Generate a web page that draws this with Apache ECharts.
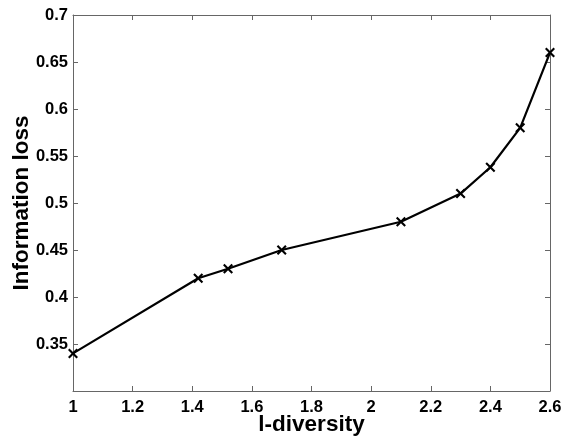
<!DOCTYPE html>
<html>
<head>
<meta charset="utf-8">
<script src="https://cdn.jsdelivr.net/npm/echarts@6/dist/echarts.min.js"></script>
<style>
html, body { margin: 0; padding: 0; background: #fff; }
#chart { width: 564px; height: 438px; }
</style>
</head>
<body>
<div id="chart"></div>
<script>
// values
var lDiversity = [1, 1.42, 1.52, 1.7, 2.1, 2.3, 2.4, 2.5, 2.6];
var infoLoss = [0.34, 0.42, 0.43, 0.45, 0.48, 0.51, 0.538, 0.58, 0.66];
var xTicks = [1, 1.2, 1.4, 1.6, 1.8, 2, 2.2, 2.4, 2.6];
var yTicks = [0.35, 0.4, 0.45, 0.5, 0.55, 0.6, 0.65, 0.7];

var points = lDiversity.map(function(x, i) { return [x, infoLoss[i]]; });

var axisColor = '#666';
var tickFont = { fontFamily: 'Liberation Sans', fontWeight: 'bold', fontSize: 16.5, color: '#000' };
var titleFont = { fontFamily: 'Liberation Sans', fontWeight: 'bold', fontSize: 22.5, color: '#000' };
// filled "x" marker
var crossPath = 'path://M0,1.5L1.5,0L5,3.5L8.5,0L10,1.5L6.5,5L10,8.5L8.5,10L5,6.5L1.5,10L0,8.5L3.5,5Z';

function fmt(v) { return String(Math.round(v * 100) / 100); }

var option = {
    animation: false,
    grid: { left: 73, right: 14, top: 15, bottom: 47, outerBoundsMode: 'none', containLabel: false },
    xAxis: [
        {
            type: 'value', min: 1, max: 2.6, interval: 0.2,
            name: 'l-diversity', nameLocation: 'middle', nameGap: 22, nameMoveOverlap: false,
            nameTextStyle: titleFont,
            axisLine: { lineStyle: { color: axisColor, width: 1 } },
            axisTick: { inside: true, length: 5, lineStyle: { color: axisColor } },
            axisLabel: Object.assign({ margin: 8, formatter: function(v) {
                return xTicks.some(function(t) { return Math.abs(t - v) < 1e-6; }) ? fmt(v) : '';
            } }, tickFont),
            splitLine: { show: false }
        },
        {
            type: 'value', min: 1, max: 2.6, interval: 0.2, position: 'top',
            axisLine: { lineStyle: { color: axisColor, width: 1 } },
            axisTick: { inside: true, length: 5, lineStyle: { color: axisColor } },
            axisLabel: { show: false },
            splitLine: { show: false }
        }
    ],
    yAxis: [
        {
            type: 'value', min: 0.3, max: 0.7, interval: 0.05,
            name: 'Information loss', nameLocation: 'middle', nameGap: 40, nameMoveOverlap: false,
            nameTextStyle: titleFont,
            axisLine: { show: true, lineStyle: { color: axisColor, width: 1 } },
            axisTick: { show: true, inside: true, length: 5, lineStyle: { color: axisColor } },
            axisLabel: Object.assign({ margin: 5, showMinLabel: false, formatter: function(v) {
                return yTicks.some(function(t) { return Math.abs(t - v) < 1e-6; }) ? fmt(v) : '';
            } }, tickFont),
            splitLine: { show: false }
        },
        {
            type: 'value', min: 0.3, max: 0.7, interval: 0.05, position: 'right',
            axisLine: { show: true, lineStyle: { color: axisColor, width: 1 } },
            axisTick: { show: true, inside: true, length: 5, lineStyle: { color: axisColor } },
            axisLabel: { show: false },
            splitLine: { show: false }
        }
    ],
    series: [
        {
            type: 'line',
            data: points,
            symbol: crossPath,
            symbolSize: 10,
            showAllSymbol: true,
            lineStyle: { color: '#000', width: 2.2 },
            itemStyle: { color: '#000' }
        }
    ]
};

var chart = echarts.init(document.getElementById('chart'));
chart.setOption(option);
</script>
</body>
</html>
